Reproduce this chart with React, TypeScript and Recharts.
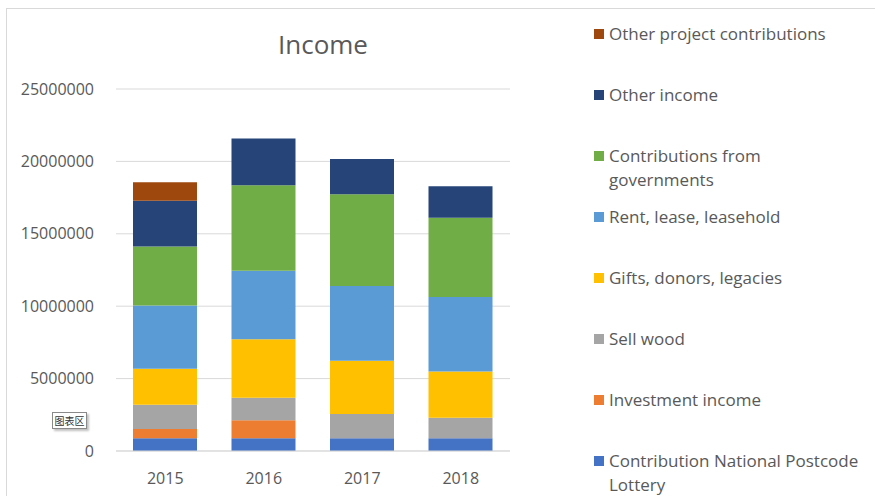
import React from "react";
import { BarChart, Bar, XAxis, YAxis, CartesianGrid } from "recharts";

const years = ["2015", "2016", "2017", "2018"];

const lottery = [880000, 880000, 880000, 880000];
const investment = [640000, 1250000, 0, 0];
const sellWood = [1670000, 1540000, 1680000, 1410000];
const gifts = [2490000, 4040000, 3670000, 3200000];
const rent = [4360000, 4730000, 5170000, 5150000];
const governments = [4090000, 5910000, 6330000, 5470000];
const otherIncome = [3160000, 3240000, 2440000, 2170000];
const otherProject = [1270000, 0, 0, 0];

const yTicks = [0, 5000000, 10000000, 15000000, 20000000, 25000000];

const series = [
  { key: "lottery", name: "Contribution National Postcode Lottery", color: "#4472C4", values: lottery },
  { key: "investment", name: "Investment income", color: "#ED7D31", values: investment },
  { key: "sellWood", name: "Sell wood", color: "#A5A5A5", values: sellWood },
  { key: "gifts", name: "Gifts, donors, legacies", color: "#FFC000", values: gifts },
  { key: "rent", name: "Rent, lease, leasehold", color: "#5B9BD5", values: rent },
  { key: "governments", name: "Contributions from governments", color: "#70AD47", values: governments },
  { key: "otherIncome", name: "Other income", color: "#264478", values: otherIncome },
  { key: "otherProject", name: "Other project contributions", color: "#9E480E", values: otherProject },
];

const data = years.map((year, i) => {
  const row: any = { year };
  series.forEach((s) => {
    row[s.key] = s.values[i];
  });
  return row;
});

const FONT = "'Open Sans', 'Noto Sans', sans-serif";
const TEXT = "#595959";

export default function App() {
  return (
    <div
      style={{
        position: "absolute",
        left: 0,
        top: 0,
        width: 875,
        height: 496,
        background: "#fff",
        overflow: "hidden",
        fontFamily: FONT,
      }}>
      <div
        style={{
          position: "absolute",
          left: 6,
          top: 8,
          width: 900,
          height: 520,
          borderTop: "1px solid #d9d9d9",
          borderLeft: "1px solid #d9d9d9",
        }}
      />
      <div
        style={{
          position: "absolute",
          left: 223,
          top: 26,
          width: 200,
          textAlign: "center",
          fontSize: 26,
          color: TEXT,
          lineHeight: "36px",
        }}>
        Income
      </div>
      <div style={{ position: "absolute", left: 0, top: 0 }}>
        <BarChart
          width={560}
          height={496}
          data={data}
          margin={{ top: 89, right: 50, bottom: 15, left: 0 }}
          barSize={64}>
          <CartesianGrid vertical={false} stroke="#d9d9d9" />
          <XAxis
            dataKey="year"
            axisLine={{ stroke: "#d9d9d9" }}
            tickLine={false}
            tickSize={0}
            tickMargin={22}
            height={30}
            tick={{ fill: TEXT, fontSize: 16, fontFamily: FONT }}
          />
          <YAxis
            width={116}
            domain={[0, 25000000]}
            ticks={yTicks}
            axisLine={false}
            tickLine={false}
            tickSize={0}
            tickMargin={22}
            tick={{ fill: TEXT, fontSize: 16, fontFamily: FONT }}
          />
          {series.map((s) => (
            <Bar
              key={s.key}
              dataKey={s.key}
              name={s.name}
              stackId="a"
              fill={s.color}
              isAnimationActive={false}
            />
          ))}
        </BarChart>
      </div>
      <div style={{ position: "absolute", left: 594, top: 22 }}>
        {[...series].reverse().map((s) => (
          <div
            key={s.key}
            style={{ position: "relative", height: 61, width: 270 }}>
            <span
              style={{
                position: "absolute",
                left: 0,
                top: 7,
                width: 10,
                height: 10,
                background: s.color,
              }}
            />
            <div
              style={{
                position: "absolute",
                left: 15,
                top: 0,
                width: 256,
                fontSize: 17,
                lineHeight: "24px",
                color: TEXT,
              }}>
              {s.name}
            </div>
          </div>
        ))}
      </div>
      <div
        style={{
          position: "absolute",
          left: 52,
          top: 412,
          width: 33,
          height: 15,
          border: "1px solid #8a8a8a",
          background: "#fff",
          boxShadow: "2px 2px 2px rgba(0,0,0,0.25)",
          fontSize: 10,
          lineHeight: "15px",
          textAlign: "center",
          color: "#333",
          fontFamily: "'Noto Sans CJK SC', sans-serif",
        }}>
        图表区
      </div>
    </div>
  );
}
